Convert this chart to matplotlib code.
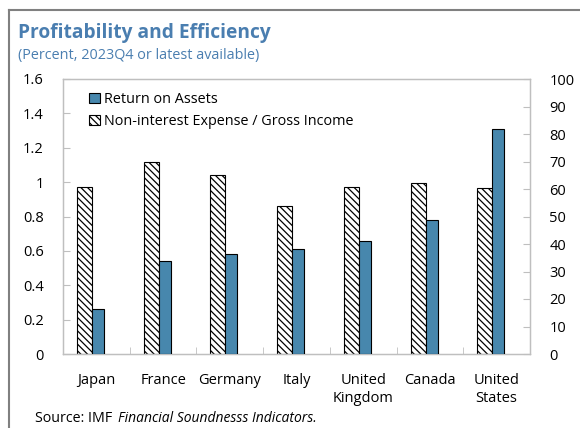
import numpy as np
import matplotlib.pyplot as plt
from matplotlib.lines import Line2D
from matplotlib.patches import Patch

plt.rcParams['font.family'] = ['Open Sans', 'DejaVu Sans']
plt.rcParams['hatch.linewidth'] = 0.9

# data
countries = ['Japan', 'France', 'Germany', 'Italy', 'United\nKingdom', 'Canada', 'United\nStates']
roa = [0.26, 0.54, 0.58, 0.61, 0.66, 0.78, 1.31]
expense = [60.6, 69.7, 65.0, 53.7, 60.6, 62.2, 60.3]

blue = '#4787ad'
title_col = '#4a7eb0'
grid_col = '#bfbfbf'
hatch = '\\\\\\\\\\'

fig = plt.figure(figsize=(5.8, 4.28), dpi=100)
ax = fig.add_axes([63/580, 1 - 354/428, (530-63)/580, (354-79)/428])
ax2 = ax.twinx()

x = np.arange(len(countries))
# hatched expense bars on right axis, ROA bars on left axis
ax2.bar(x - 0.29, expense, width=0.225, align='edge', color='white',
        edgecolor='black', hatch=hatch, linewidth=0.8)
ax.bar(x - 0.065, roa, width=0.18, align='edge', color=blue,
       edgecolor='black', linewidth=0.8, zorder=3)
ax.set_zorder(ax2.get_zorder() + 1)
ax.patch.set_visible(False)

ax.set_xlim(-0.5, len(countries) - 0.5)
ax.set_ylim(0, 1.6)
ax2.set_ylim(0, 100)
ax.set_yticks(np.arange(0, 1.61, 0.2))
ax.set_yticklabels(['0', '0.2', '0.4', '0.6', '0.8', '1', '1.2', '1.4', '1.6'])
ax2.set_yticks(np.arange(0, 101, 10))

ax.set_xticks(x)
ax.set_xticklabels(countries, fontsize=10.5, linespacing=1.2)
ax.tick_params(axis='x', length=0, pad=14)
ax.set_xticks(np.arange(-0.5, len(countries), 1), minor=True)
ax.tick_params(axis='x', which='minor', direction='in', length=5, color=grid_col)
ax.tick_params(axis='y', direction='in', length=5, color=grid_col, labelsize=10.5, pad=14)
ax2.tick_params(axis='y', direction='in', length=5, color=grid_col, labelsize=10.5, pad=14)
for a in (ax, ax2):
    for s in a.spines.values():
        s.set_color(grid_col)
        s.set_linewidth(0.9)

handles = [Patch(facecolor=blue, edgecolor='black', linewidth=0.8, label='Return on Assets'),
           Patch(facecolor='white', edgecolor='black', hatch=hatch, linewidth=0.8,
                 label='Non-interest Expense / Gross Income')]
ax.legend(handles=handles, loc='upper left', bbox_to_anchor=(0.028, 1.0), frameon=False,
          fontsize=10.4, handlelength=0.75, handleheight=0.75, handletextpad=0.3,
          labelspacing=0.5)

fig.text(18/580, 1 - 33/428, 'Profitability and Efficiency', fontsize=13.8,
         fontweight='bold', color=title_col, va='center')
fig.text(18/580, 1 - 56/428, '(Percent, 2023Q4 or latest available)', fontsize=10.4,
         color=title_col, va='center')
fig.text(35/580, 1 - 418/428, 'Source: IMF', fontsize=10.3, va='center')
fig.text(118/580, 1 - 418/428, 'Financial Soundnesss Indicators.', fontsize=10,
         style='italic', va='center')

# outer frame lines
fig.add_artist(Line2D([9/580, 9/580], [0, 1 - 10/428], color='#808080', lw=1.5))
fig.add_artist(Line2D([9/580, 1], [1 - 10/428, 1 - 10/428], color='#808080', lw=1.5))

fig.savefig('out.png', dpi=100)
